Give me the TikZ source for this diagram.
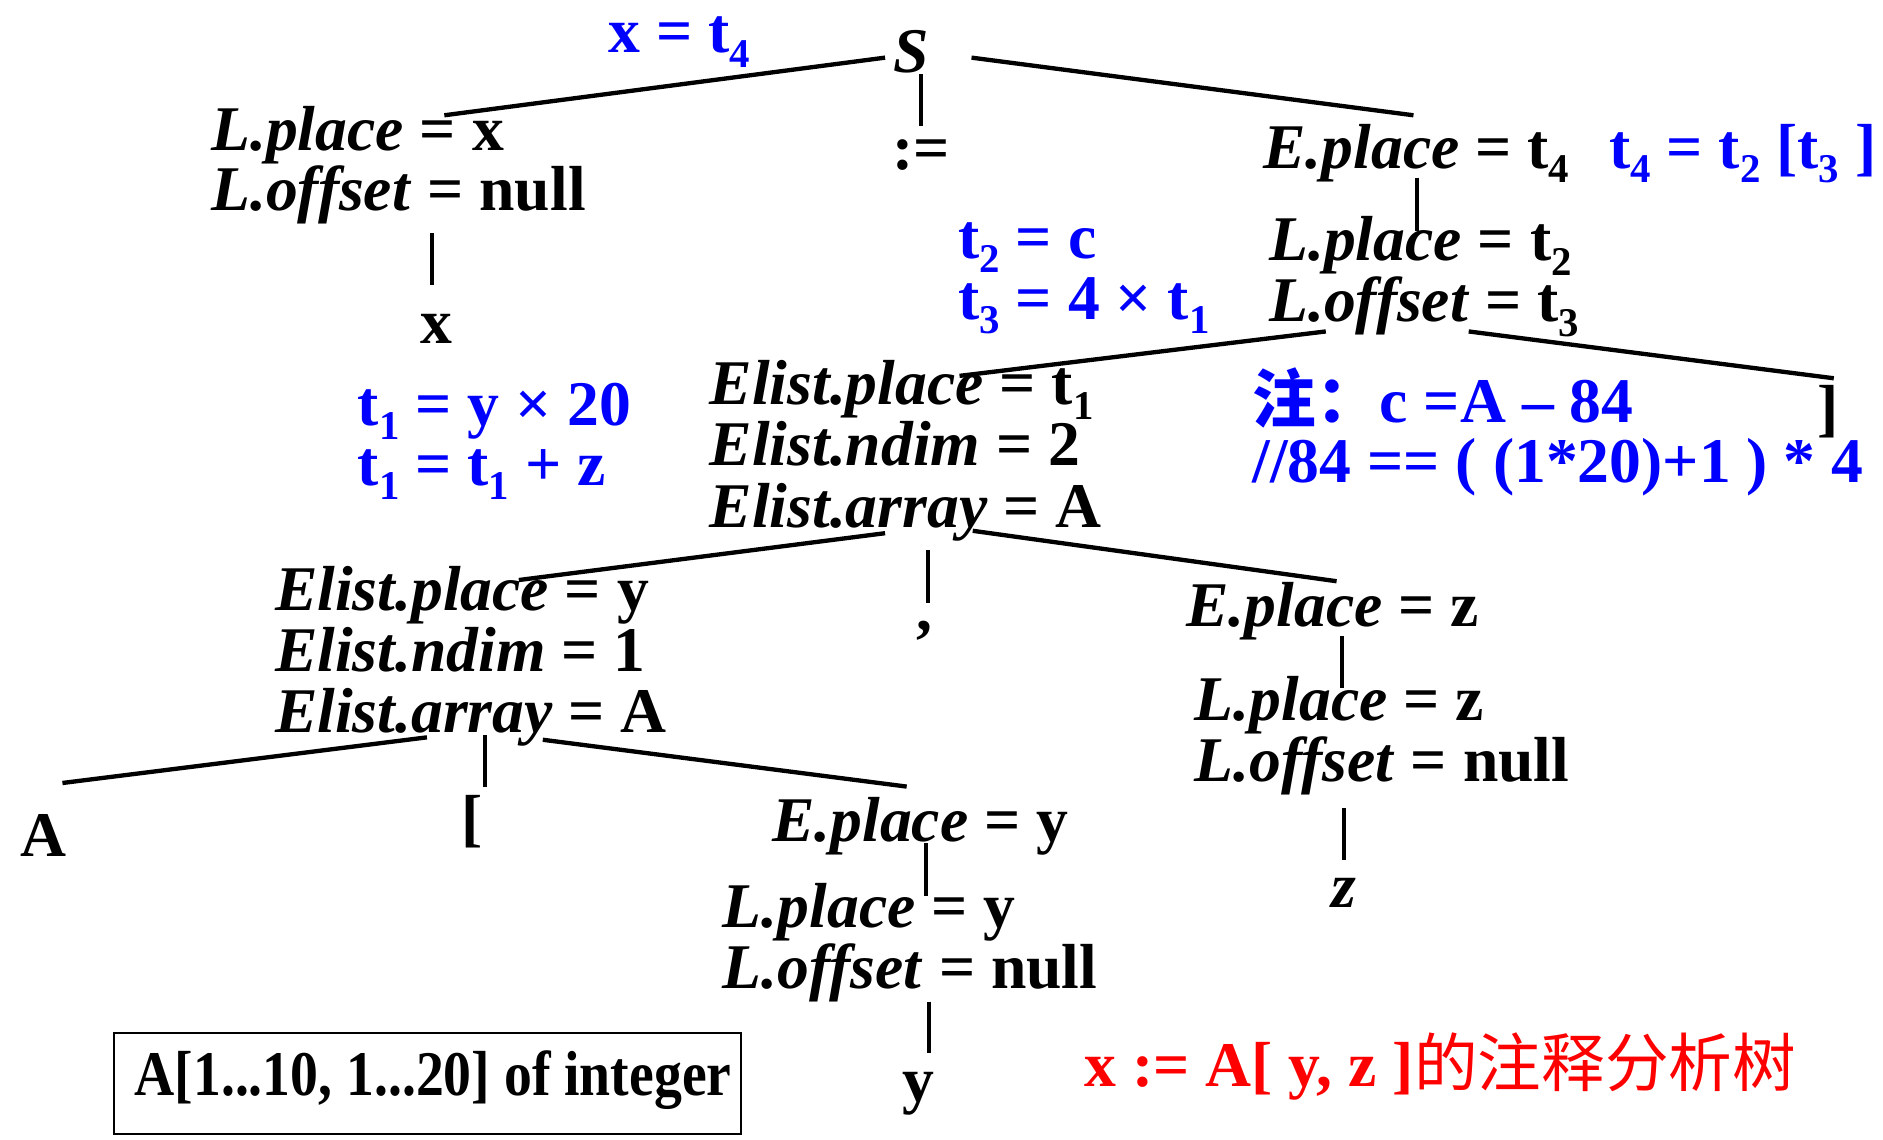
\documentclass[tikz,border=0pt]{standalone}
\usepackage{fontspec}
\setmainfont{Liberation Serif}
\newfontfamily\cjk{Noto Sans CJK SC}
\usetikzlibrary{fit}
\definecolor{pblue}{RGB}{0,0,255}
\definecolor{pred}{RGB}{255,0,0}
\newcommand{\sbs}[1]{\raisebox{-12pt}[0pt][0pt]{\fontsize{34}{34}\selectfont #1}}
\begin{document}
\begin{tikzpicture}[x=1pt,y=-1pt,
  txt/.style={inner sep=0pt,outer sep=0pt,anchor=base west,font=\fontsize{53}{53}\selectfont\bfseries},
  ctxt/.style={txt,anchor=base},
  blu/.style={txt,text=pblue},
  edge/.style={line width=3.6pt}]
\useasboundingbox (0,0) rectangle (1568,949);
% nodes
\node[blu] (ann1) at (507,44) {x = t\sbs{4}};
\node[txt] (S) at (744,60) {\textit{S}};
\node[txt] (assign) at (743,141) {:=};
\node[txt] (Lp1) at (176,125) {\textit{L.place} = x};
\node[txt] (Lo1) at (176,175) {\textit{L.offset} = null};
\node[ctxt] (x1) at (363,286) {x};
\node[txt] (Ep1) at (1052,140) {\textit{E.place} = t\sbs{4}};
\node[blu] (ann2) at (1340,140) {t\sbs{4} = t\sbs{2} [t\sbs{3} ]};
\node[txt] (Lp2) at (1057,217) {\textit{L.place} = t\sbs{2}};
\node[txt] (Lo2) at (1057,268) {\textit{L.offset} = t\sbs{3}};
\node[blu] (ann3) at (798,215) {t\sbs{2} = c};
\node[blu] (ann4) at (798,266) {t\sbs{3} = 4 × t\sbs{1}};
\node[txt,anchor=base east] (rb) at (1531,358) {]};
\node[blu] (ann5) at (1043,352) {{\cjk 注：}c =A – 84};
\node[blu] (ann6) at (1043,402) {//84 == ( (1*20)+1 ) * 4};
\node[txt] (El1p) at (591,337) {\textit{Elist.place} = t\sbs{1}};
\node[txt] (El1n) at (591,388) {\textit{Elist.ndim} = 2};
\node[txt] (El1a) at (591,439) {\textit{Elist.array} = A};
\node[blu] (ann7) at (298,354) {t\sbs{1} = y × 20};
\node[blu] (ann8) at (298,404) {t\sbs{1} = t\sbs{1} + z};
\node[ctxt] (comma) at (770,525) {,};
\node[txt] (El2p) at (229,508) {\textit{Elist.place} = y};
\node[txt] (El2n) at (229,559) {\textit{Elist.ndim} = 1};
\node[txt] (El2a) at (229,610) {\textit{Elist.array} = A};
\node[txt] (Epz) at (988,522) {\textit{E.place} = z};
\node[txt] (Lpz) at (995,600) {\textit{L.place} = z};
\node[txt] (Loz) at (995,651) {\textit{L.offset} = null};
\node[ctxt] (zz) at (1119,756) {\textit{z}};
\node[txt] (A) at (17,713) {A};
\node[txt] (lb) at (384,699) {[};
\node[txt] (Epy) at (643,701) {\textit{E.place} = y};
\node[txt] (Lpy) at (602,772) {\textit{L.place} = y};
\node[txt] (Loy) at (602,823) {\textit{L.offset} = null};
\node[ctxt] (yy) at (765,917) {y};
\node[txt] (boxt) at (112,912) {\scalebox{0.875}[1]{A[1...10, 1...20] of integer}};
\node[draw,line width=1.7pt,inner sep=0pt,fit={(95,860)(617,944)}] (box) {};
\node[txt,text=pred] (title) at (903,905) {x := A[ y, z ]{\cjk\mdseries 的注释分析树}};
% connector end points
\coordinate (c1a) at (737,48);   \coordinate (c1b) at (370,96);
\coordinate (c2a) at (767,62);   \coordinate (c2b) at (767,105);
\coordinate (c3a) at (809,48);   \coordinate (c3b) at (1177,96);
\coordinate (c4a) at (360,194);  \coordinate (c4b) at (360,237);
\coordinate (c5a) at (1180,148); \coordinate (c5b) at (1180,192);
\coordinate (c6a) at (1104,276); \coordinate (c6b) at (799,313);
\coordinate (c7a) at (1223,276); \coordinate (c7b) at (1527,315);
\coordinate (c8a) at (737,444);  \coordinate (c8b) at (432,483);
\coordinate (c9a) at (773,458);  \coordinate (c9b) at (773,502);
\coordinate (c10a) at (810,442); \coordinate (c10b) at (1113,484);
\coordinate (c11a) at (1117.5,530); \coordinate (c11b) at (1117.5,573);
\coordinate (c12a) at (1119,673); \coordinate (c12b) at (1119,716);
\coordinate (c13a) at (355.5,614); \coordinate (c13b) at (52,652);
\coordinate (c14a) at (404,612); \coordinate (c14b) at (404,655);
\coordinate (c15a) at (452,616); \coordinate (c15b) at (755,655);
\coordinate (c16a) at (771,702); \coordinate (c16b) at (771,746);
\coordinate (c17a) at (773.5,834); \coordinate (c17b) at (773.5,877);
\foreach \i in {1,...,17} {\draw[edge] (c\i a) -- (c\i b);}
\end{tikzpicture}
\end{document}
